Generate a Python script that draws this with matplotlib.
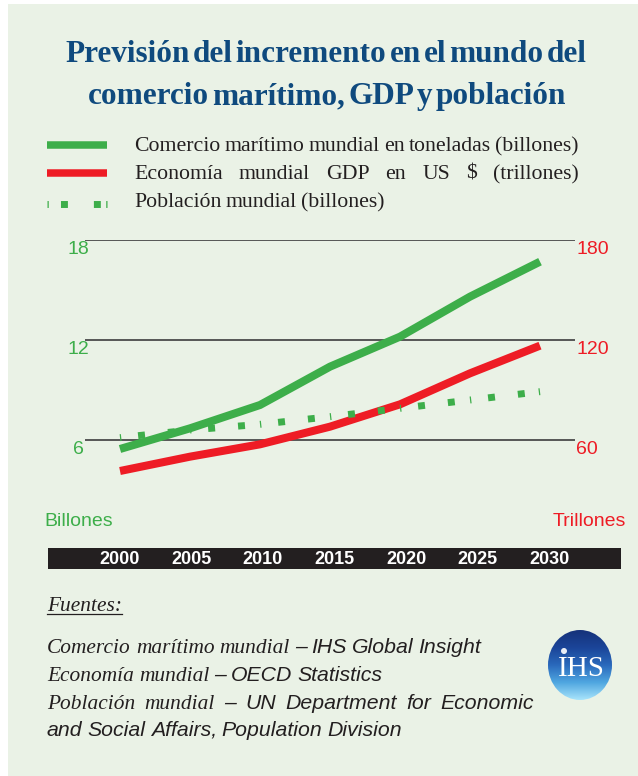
import numpy as np
import matplotlib
matplotlib.use('Agg')
import matplotlib.pyplot as plt
from matplotlib.patches import Rectangle, Ellipse
from matplotlib.colors import LinearSegmentedColormap

plt.rcParams['lines.scale_dashes'] = False

# --- data -------------------------------------------------------------
years = [2000, 2005, 2010, 2015, 2020, 2025, 2030]
comercio = [5.46, 6.7, 8.1, 10.4, 12.2, 14.6, 16.7]      # billones de toneladas
gdp = [41.4, 50.0, 57.4, 68.0, 81.4, 100.0, 116.6]       # trillones de US$
poblacion = [6.14, 6.6, 6.94, 7.4, 7.9, 8.4, 8.9]        # billones de personas

left_ticks = [6, 12, 18]
right_ticks = [60, 120, 180]
year_labels = ['2000', '2005', '2010', '2015', '2020', '2025', '2030']

title_lines = ['Previsión del incremento en el mundo del',
               'comercio marítimo, GDP y población']
legend_labels = ['Comercio marítimo mundial en toneladas (billones)',
                 'Economía mundial GDP en US $ (trillones)',
                 'Población mundial (billones)']

GREEN = '#3DAE4A'
RED = '#EE1C25'
BLUE = '#0F4A7E'
BG = '#EAF2E6'
DARK = '#231F20'

W, H = 638, 776
fig = plt.figure(figsize=(W / 100, H / 100), dpi=100)
fig.patch.set_facecolor('white')
renderer = fig.canvas.get_renderer()

# full-figure layer in pixel coordinates (y grows downward)
bg = fig.add_axes([0, 0, 1, 1])
bg.set_xlim(0, W)
bg.set_ylim(H, 0)
bg.axis('off')
bg.add_patch(Rectangle((8, 4), W - 8, H - 4, facecolor=BG, edgecolor='none', zorder=0))


def px_axes(x0, y0, x1, y1):
    return fig.add_axes([x0 / W, 1 - y1 / H, (x1 - x0) / W, (y1 - y0) / H])


def set_words(items, x0, y, x1=None, gap=5.0):
    """Lay out (word, style) pairs on a baseline; justify when x1 is given."""
    texts = [bg.text(0, y, s, ha='left', va='baseline', **kw) for s, kw in items]
    widths = [t.get_window_extent(renderer).width for t in texts]
    if x1 is not None and len(items) > 1:
        gap = (x1 - x0 - sum(widths)) / (len(items) - 1)
    x = x0
    for t, w in zip(texts, widths):
        t.set_x(x)
        x += w + gap
    return texts, x - gap


def centered_words(text, cx, y, gap, **kw):
    items = [(w, kw) for w in text.split()]
    texts, end = set_words(items, 0, y, gap=gap)
    shift = cx - end / 2
    for t in texts:
        t.set_x(t.get_position()[0] + shift)


def words(text, kw):
    return [(w, kw) for w in text.split()]


# --- title ------------------------------------------------------------
title_kw = dict(family='Liberation Serif', weight='bold', size=22.5, color=BLUE)
centered_words(title_lines[0], 326, 62, 3, **title_kw)
centered_words(title_lines[1], 327, 104, 3, **title_kw)

# --- legend -----------------------------------------------------------
leg_kw = dict(family='Liberation Serif', size=15.7, color=DARK)
bg.plot([47, 107], [145, 145], color=GREEN, lw=5.4, solid_capstyle='butt')
bg.plot([47, 107], [173, 173], color=RED, lw=5.4, solid_capstyle='butt')
bg.plot([47, 107], [204, 204], color=GREEN, lw=5.0,
        linestyle=(0, (0.9, 8.8, 5.0, 18.7, 5.0, 200)), dash_capstyle='butt')
bg.plot([107, 47], [204, 204], color=GREEN, lw=5.0,
        linestyle=(0, (0.9, 200)), dash_capstyle='butt')

_, leg_end = set_words(words(legend_labels[0], leg_kw), 134, 151, gap=4.2)
set_words(words(legend_labels[1], leg_kw), 134, 179, x1=leg_end)
set_words(words(legend_labels[2], leg_kw), 134, 207, gap=4.2)

# --- chart ------------------------------------------------------------
ax2 = px_axes(85, 240, 575, 480)
ax = ax2.twinx()
for a in (ax, ax2):
    a.set_xlim(1997.5, 2032.5)
    a.axis('off')
ax.set_ylim(3.6, 18)
ax2.set_ylim(36, 180)
ax.set_zorder(ax2.get_zorder() + 1)
ax.patch.set_visible(False)

for v in right_ticks:
    ax2.axhline(v, color='#4A4A4A', lw=1.3, zorder=1)
ax2.plot(years, gdp, color=RED, lw=5.8, solid_joinstyle='miter',
         solid_capstyle='butt', zorder=2, clip_on=False)

ax.plot(years, comercio, color=GREEN, lw=5.8, solid_joinstyle='miter',
        solid_capstyle='butt', zorder=2, clip_on=False)
# population: each 5-year step drawn on its own so the dash pattern restarts
for i in range(len(years) - 1):
    ax.plot(years[i:i + 2], poblacion[i:i + 2], color=GREEN, lw=5.0,
            linestyle=(0, (0.9, 12.2, 5.0, 16.6, 5.0, 200)),
            dash_capstyle='butt', zorder=3, clip_on=False)
ax.plot(years[::-1][:2], poblacion[::-1][:2], color=GREEN, lw=5.0,
        linestyle=(0, (0.9, 200)), dash_capstyle='butt', zorder=3, clip_on=False)

num_kw = dict(family='Liberation Sans', size=14)
for v in left_ticks:
    ax.annotate(str(v), xy=(0, v), xycoords=('axes fraction', 'data'),
                xytext=(-7, -10), textcoords='offset pixels',
                ha='center', va='center', color=GREEN, **num_kw)
for v in right_ticks:
    ax2.annotate(str(v), xy=(1, v), xycoords=('axes fraction', 'data'),
                 xytext=(1, -10), textcoords='offset pixels',
                 ha='left', va='center', color=RED, **num_kw)

bg.text(44, 522, 'Billones', ha='left', va='center', color=GREEN, **num_kw)
bg.text(626, 522, 'Trillones', ha='right', va='center', color=RED, **num_kw)

# --- year bar ---------------------------------------------------------
bar = px_axes(48, 548, 621, 569)
bar.set_xlim(1995, 2035)
bar.set_ylim(0, 1)
bar.set_facecolor(DARK)
bar.set_xticks([])
bar.set_yticks([])
for s in bar.spines.values():
    s.set_visible(False)
for yr, lab in zip(years, year_labels):
    bar.text(yr, 0.47, lab, ha='center', va='center', color='white',
             family='Liberation Sans', weight='bold', size=13)

# --- sources ----------------------------------------------------------
serif_it = dict(family='Liberation Serif', style='italic', size=15.4, color=DARK)
sans_it = dict(family='Liberation Sans', style='italic', size=15.3, color=DARK)

t = bg.text(47, 611, 'Fuentes:', ha='left', va='baseline', **serif_it)
fw = t.get_window_extent(renderer).width
bg.plot([47, 47 + fw], [614, 614], color=DARK, lw=0.9)

set_words(words('Comercio marítimo mundial', serif_it) +
          words('– IHS Global Insight', sans_it), 47, 653, gap=5)
set_words(words('Economía mundial', serif_it) +
          words('– OECD Statistics', sans_it), 47, 681, gap=5)
set_words(words('Población mundial', serif_it) +
          words('– UN Department for Economic', sans_it), 47, 709, x1=534)
set_words(words('and Social Affairs, Population Division', sans_it), 47, 736, gap=5)

# --- logo -------------------------------------------------------------
cx, cy, ew, eh = 580, 665, 64, 70
logo_cmap = LinearSegmentedColormap.from_list(
    'logo', ['#16327A', '#1B4599', '#2A69BC', '#4FA6E0', '#A8E4FB'])
grad = np.linspace(0, 1, 200)[:, None] * np.ones((1, 10))
img = bg.imshow(grad, cmap=logo_cmap, aspect='auto', zorder=2,
                extent=(cx - ew / 2, cx + ew / 2, cy + eh / 2, cy - eh / 2))
clip = Ellipse((cx, cy), ew, eh, transform=bg.transData, facecolor='none', edgecolor='none')
bg.add_patch(clip)
img.set_clip_path(clip)
bg.set_xlim(0, W)
bg.set_ylim(H, 0)
bg.text(cx + 1, cy + 4, 'IHS', ha='center', va='center', color='white',
        family='Liberation Serif', size=21, zorder=3)
bg.add_patch(Ellipse((cx - 16, cy - 14), 6, 6, facecolor='white',
                     edgecolor='none', alpha=0.9, zorder=3))

fig.savefig('out.png', dpi=100, facecolor=fig.get_facecolor())
